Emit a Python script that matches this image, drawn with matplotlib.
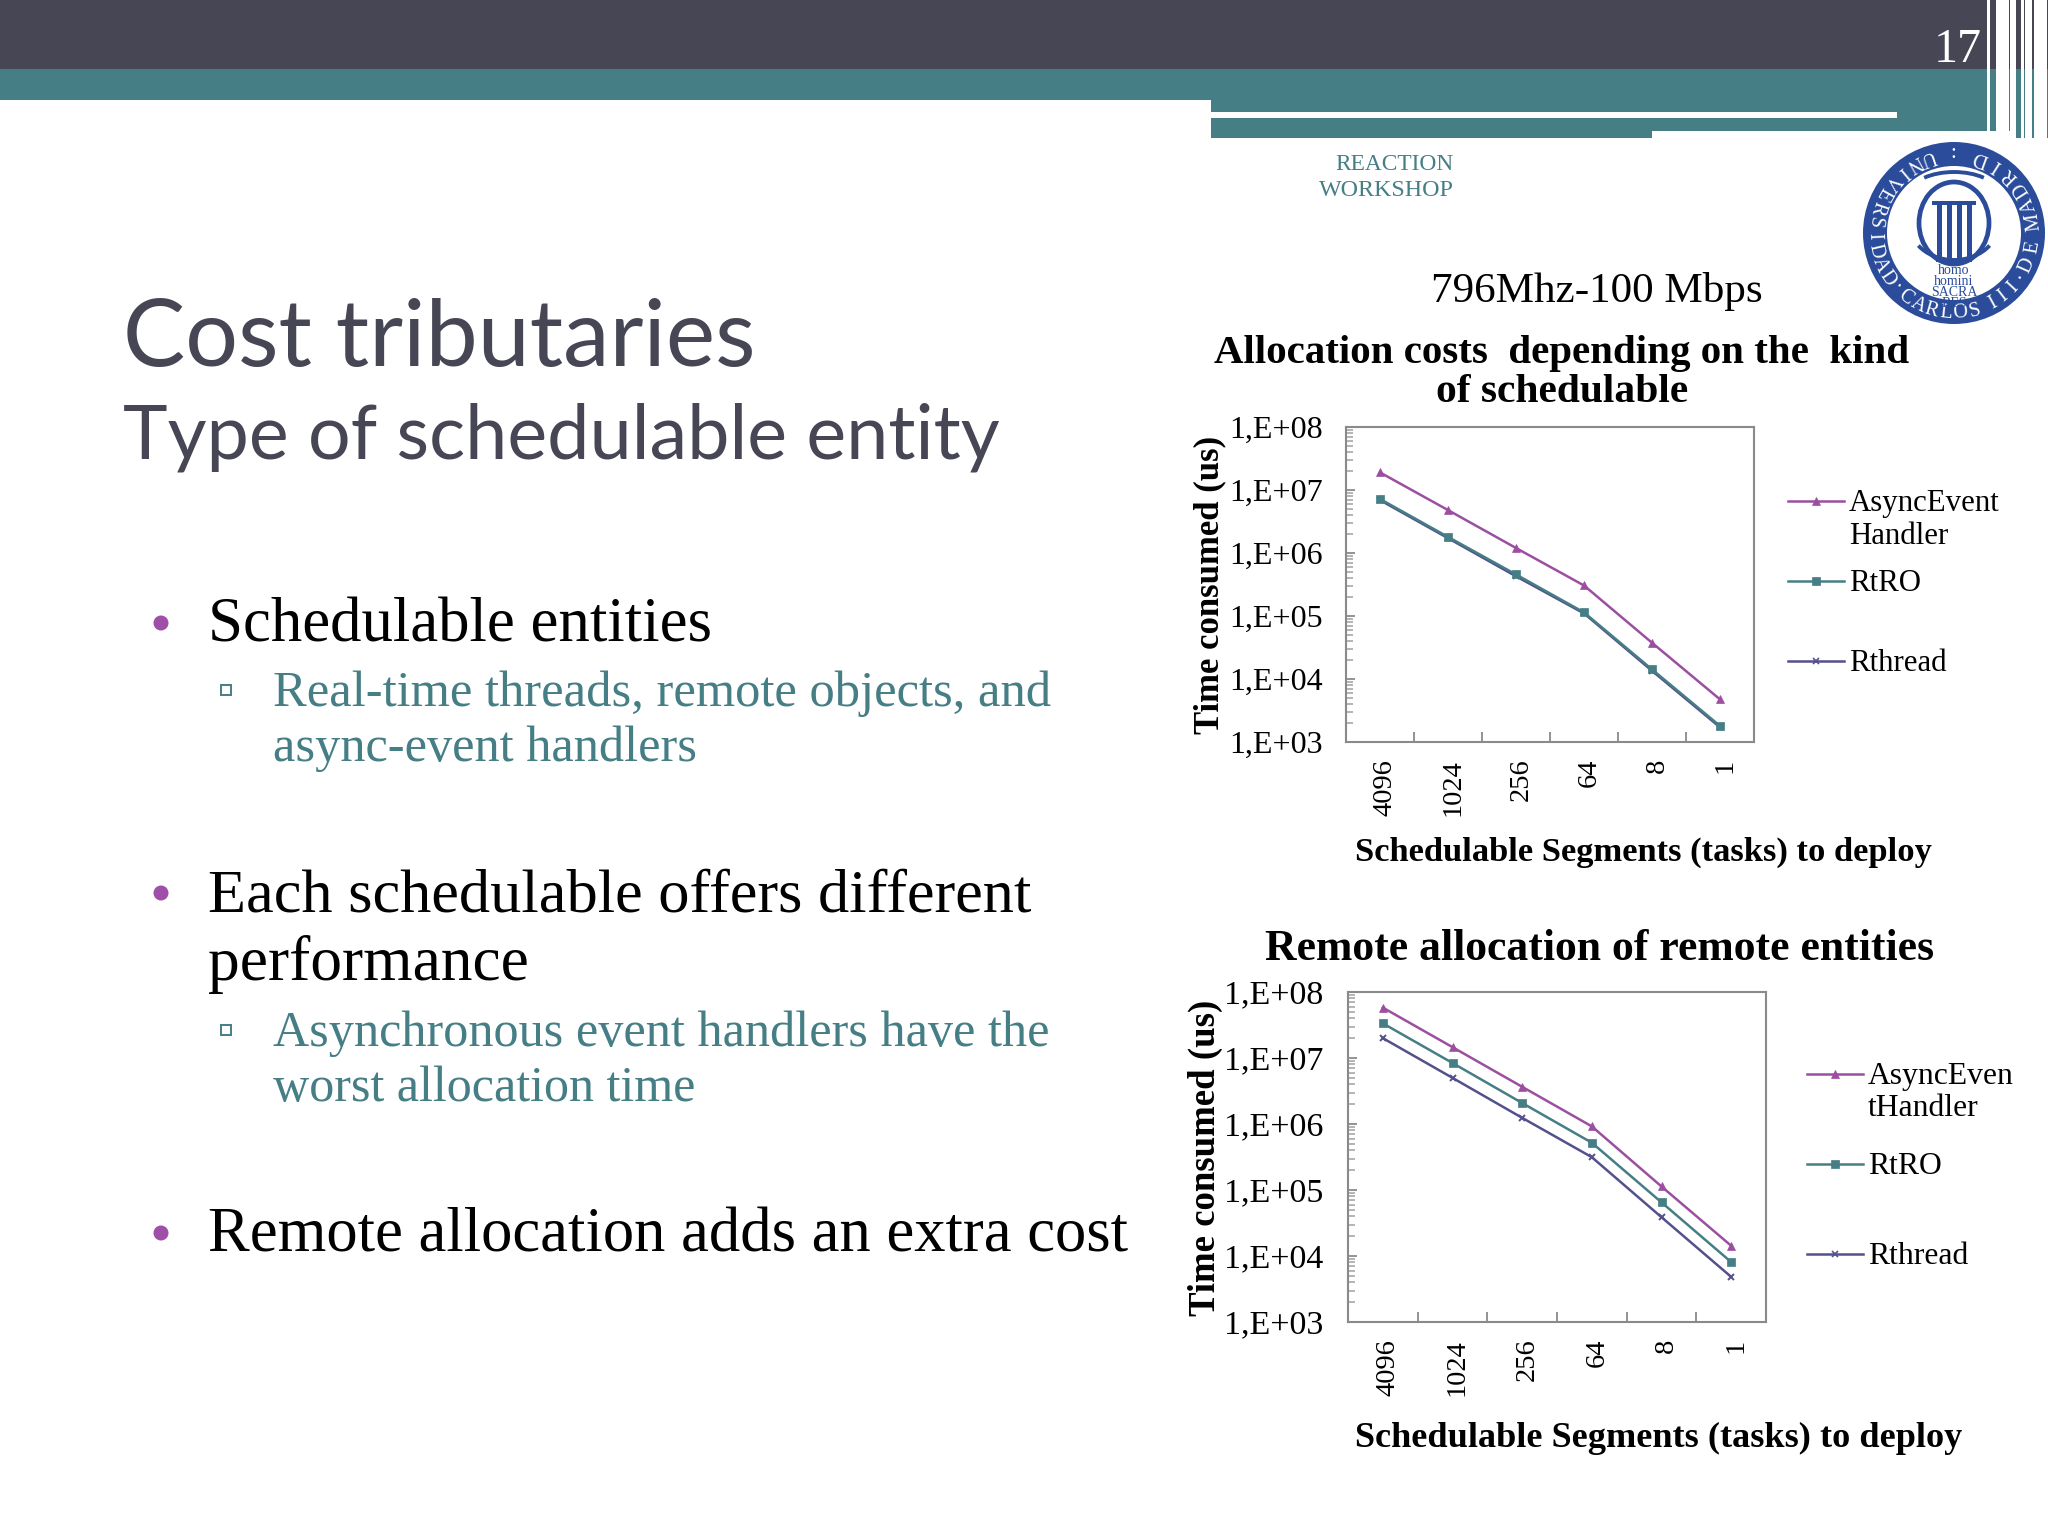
import numpy as np
import matplotlib
matplotlib.use("Agg")
import matplotlib.pyplot as plt
import matplotlib.ticker as mticker
from matplotlib.patches import Rectangle, Circle, Ellipse, Arc
from matplotlib.lines import Line2D
from matplotlib.transforms import ScaledTranslation

# ---------- data ----------
categories = ["4096", "1024", "256", "64", "8", "1"]
y_tick_values = [1e3, 1e4, 1e5, 1e6, 1e7, 1e8]
y_tick_labels = ["1,E+03", "1,E+04", "1,E+05", "1,E+06", "1,E+07", "1,E+08"]

top_async = [1.9e7, 4.8e6, 1.2e6, 3.05e5, 3.76e4, 4.75e3]
top_rtro = [7.2e6, 1.8e6, 4.56e5, 1.14e5, 1.42e4, 1.8e3]
top_rthread = [6.9e6, 1.72e6, 4.27e5, 1.1e5, 1.35e4, 1.71e3]

bottom_async = [5.8e7, 1.46e7, 3.66e6, 9.2e5, 1.13e5, 1.43e4]
bottom_rtro = [3.35e7, 8.4e6, 2.08e6, 5.2e5, 6.5e4, 8.1e3]
bottom_rthread = [2.0e7, 5.0e6, 1.24e6, 3.14e5, 3.87e4, 4.83e3]

top_legend = ["AsyncEvent\nHandler", "RtRO", "Rthread"]
bottom_legend = ["AsyncEven\ntHandler", "RtRO", "Rthread"]

# ---------- styles ----------
W, H = 2048, 1536
DARK = "#464655"
TEAL = "#457E85"
PURPLE = "#9C4FA0"
INDIGO = "#54508C"
BLUE = "#2B4C9B"
GREY = "#8A8A8A"
SERIF = "Liberation Serif"
SANS = "Lato"

fig = plt.figure(figsize=(W / 100, H / 100), dpi=100, facecolor="white")
bg = fig.add_axes([0, 0, 1, 1], zorder=0)
bg.set_xlim(0, W)
bg.set_ylim(H, 0)
bg.axis("off")
renderer = fig.canvas.get_renderer()


def label(x, y, s, width=None, size=30, color="black", family=SERIF, weight="normal",
          ha="left", va="baseline", rotation=0, zorder=5):
    t = bg.text(x, y, s, fontsize=size, color=color, family=family, weight=weight,
                ha=ha, va=va, rotation=rotation, zorder=zorder, rotation_mode="anchor")
    if width is not None:
        ext = t.get_window_extent(renderer)
        span = ext.height if rotation == 90 else ext.width
        t.set_fontsize(size * width / span)
    return t


def rect(x0, y0, x1, y1, color, zorder=1):
    bg.add_patch(Rectangle((x0, y0), x1 - x0, y1 - y0, facecolor=color, edgecolor="none", zorder=zorder))


# ---------- header band ----------
rect(0, 0, 1987, 69, DARK)
rect(0, 69, 1987, 100, TEAL)
rect(1211, 100, 1987, 131, TEAL)
rect(1211, 131, 1652, 138, TEAL)
rect(1211, 112, 1897, 118, "white", zorder=2)
for x0, x1 in [(1990, 1996), (2009, 2010)]:
    rect(x0, 0, x1, 69, DARK)
    rect(x0, 69, x1, 131, TEAL)
for x0, x1 in [(2016, 2021), (2023.5, 2025), (2032, 2034)]:
    rect(x0, 0, x1, 69, DARK)
    rect(x0, 69, x1, 138, TEAL)
rect(2047, 0, 2048, 69, DARK)
rect(2047, 69, 2048, 138, TEAL)
label(1934, 62, "17", width=48, color="white")

label(1454, 170, "REACTION", width=118, color=TEAL, ha="right")
label(1454, 196, "WORKSHOP", width=135, color=TEAL, ha="right")

# ---------- logo ----------
cx, cy, R = 1954, 233, 91
bg.add_patch(Circle((cx, cy), R, facecolor=BLUE, edgecolor="none", zorder=2))
bg.add_patch(Circle((cx, cy), 67, facecolor="white", edgecolor="none", zorder=3))
ring_groups = [("UNIVERSIDAD", 109, 214), ("·", 224, 224), ("CARLOS", 233, 285), ("III", 299, 317),
               ("·", 327, 327), ("DE", 336, 350), ("MADRID", 368, 430)]
for word, a0, a1 in ring_groups:
    for ch, ang in zip(word, np.linspace(a0, a1, len(word))):
        a = np.deg2rad(ang)
        bg.text(cx + 85 * np.cos(a), cy - 85 * np.sin(a), ch, color="white", fontsize=14.5, family=SERIF,
                ha="center", va="baseline", rotation=ang + 90, rotation_mode="anchor", zorder=4)
bg.text(cx - 1, cy - 79, ":", color="white", fontsize=15, family=SERIF, ha="center", va="center", zorder=4)
bg.add_patch(Ellipse((cx, 223), 70, 82, facecolor="none", edgecolor=BLUE, lw=3.4, zorder=4))
bg.add_patch(Arc((cx, 195), 90, 46, theta1=210, theta2=330, color=BLUE, lw=2.8, zorder=4))
bg.add_patch(Arc((cx, 225), 88, 70, theta1=30, theta2=150, color=BLUE, lw=2.8, zorder=4))
rect(cx - 22, 201, cx + 22, 205, BLUE, zorder=5)
for dx in (-15, -5, 5, 15):
    rect(cx + dx - 2.5, 205, cx + dx + 2.5, 258, BLUE, zorder=5)
rect(cx - 18, 258, cx + 18, 262, BLUE, zorder=5)
bg.text(cx, 264, "homo\nhomini\nSACRA\nRES", color=BLUE, fontsize=10, family=SERIF, ha="center", va="top",
        multialignment="center", linespacing=0.8, zorder=6)

# ---------- left text ----------
label(123, 366, "Cost tributaries", width=632, color=DARK, family=SANS)
label(123, 458, "Type of schedulable entity", width=876, color=DARK, family=SANS)

bullets = [(161, 623), (161, 893), (161, 1233)]
for bx, by in bullets:
    bg.add_patch(Circle((bx, by), 7.5, facecolor="#A04FA8", edgecolor="none", zorder=3))
for by in (690, 1030):
    bg.add_patch(Rectangle((221, by - 5), 9.5, 9.5, facecolor="white", edgecolor=TEAL, lw=1.4, zorder=3))

label(208, 642, "Schedulable entities", width=504)
label(273, 706, "Real-time threads, remote objects, and", width=778, color=TEAL)
label(273, 761, "async-event handlers", width=425, color=TEAL)
label(208, 911, "Each schedulable offers different", width=824)
label(208, 980, "performance", width=321)
label(273, 1046, "Asynchronous event handlers have the", width=776, color=TEAL)
label(273, 1101, "worst allocation time", width=423, color=TEAL)
label(208, 1252, "Remote allocation adds an extra cost", width=920)

# ---------- chart headings ----------
label(1597, 302, "796Mhz-100 Mbps", width=332, ha="center")
label(1562, 363, "Allocation costs  depending on the  kind", width=694, weight="bold", ha="center")
label(1562, 402, "of schedulable", width=252, weight="bold", ha="center")
label(1600, 960, "Remote allocation of remote entities", width=668, weight="bold", ha="center")


# ---------- charts ----------
def chart(box, series, legend_labels, legend_y, legend_x, ylabel_xy, ylabel_h, xlabel_xy, xlabel_w,
          ytick_size, legend_size, ypad):
    x0, y0, x1, y1 = box
    ax = fig.add_axes([x0 / W, 1 - y1 / H, (x1 - x0) / W, (y1 - y0) / H], zorder=2)
    ax.patch.set_alpha(0)
    positions = np.arange(len(categories))
    styles = [("^", PURPLE, 6.0), ("s", TEAL, 6.0), ("x", INDIGO, 5.0)]
    for i in [2, 1, 0]:
        m, c, ms = styles[i]
        ax.plot(positions, series[i], color=c, marker=m, ms=ms, lw=1.8, mew=1.4 if m == "x" else 0.5,
                zorder=3 + (1 if i == 1 else 0))
    ax.set_yscale("log")
    ax.set_ylim(1e3, 1e8)
    ax.set_xlim(-0.5, len(categories) - 0.5)
    ax.set_yticks(y_tick_values)
    ax.set_yticklabels(y_tick_labels, family=SERIF, fontsize=ytick_size)
    ax.yaxis.set_minor_locator(mticker.LogLocator(base=10, subs=np.arange(2, 10), numticks=12))
    ax.yaxis.set_minor_formatter(mticker.NullFormatter())
    ax.tick_params(axis="y", which="major", direction="in", length=6.5, width=1.3, color=GREY, pad=ypad)
    ax.tick_params(axis="y", which="minor", direction="in", length=5, width=1.1, color="#A0A0A0")
    ax.set_xticks(positions)
    ax.set_xticklabels(categories, rotation=90, family=SERIF, fontsize=20.5)
    ax.set_xticks(positions[:-1] + 0.5, minor=True)
    ax.tick_params(axis="x", which="major", length=0, pad=12)
    ax.tick_params(axis="x", which="minor", direction="in", length=7, width=1.3, color=GREY)
    shift = ScaledTranslation(5 / 100, 0, fig.dpi_scale_trans)
    for tl in ax.get_xticklabels():
        tl.set_transform(tl.get_transform() + shift)
    for s in ax.spines.values():
        s.set_color(GREY)
        s.set_linewidth(1.5)
    for i, (lab, ly) in enumerate(zip(legend_labels, legend_y)):
        m, c, ms = styles[i]
        bg.add_line(Line2D([legend_x, legend_x + 56], [ly, ly], color=c, lw=1.8, zorder=4))
        bg.add_line(Line2D([legend_x + 28], [ly], color=c, marker=m, ms=ms - 0.5, mew=1.2 if m == "x" else 0.5, zorder=4))
        for j, part in enumerate(lab.split("\n")):
            bg.text(legend_x + 61, ly + 10 + j * 32.5, part, family=SERIF, fontsize=legend_size, ha="left",
                    va="baseline", zorder=5)
    label(ylabel_xy[0], ylabel_xy[1], "Time consumed (us)", width=ylabel_h, weight="bold", ha="center",
          va="center", rotation=90)
    label(xlabel_xy[0], xlabel_xy[1], "Schedulable Segments (tasks) to deploy", width=xlabel_w, weight="bold",
          ha="center")


chart((1346, 427, 1754, 742), [top_async, top_rtro, top_rthread], top_legend,
      [501, 581, 661], 1788, (1210, 585), 298, (1643, 861), 576, 23, 22.2, 17)
chart((1348, 992, 1766, 1322), [bottom_async, bottom_rtro, bottom_rthread], bottom_legend,
      [1074, 1164, 1254], 1807, (1205, 1158), 316, (1659, 1447), 606, 24.5, 22.8, 18)

fig.savefig("out.png", dpi=100, facecolor="white")
